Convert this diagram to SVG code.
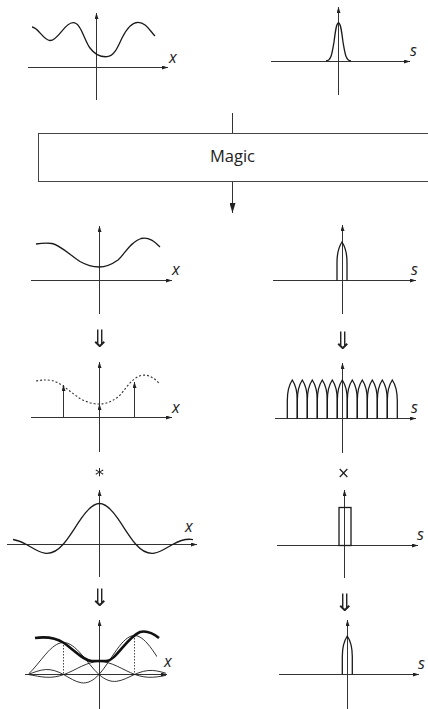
<svg xmlns="http://www.w3.org/2000/svg" xmlns:xlink="http://www.w3.org/1999/xlink" width="428" height="709" viewBox="0 0 428 709">
<style>
.ax{stroke:#333;stroke-width:1;fill:none}
.axa{stroke:#333;stroke-width:1;fill:none;marker-end:url(#ah)}
.crv{stroke:#1a1a1a;stroke-width:1.3;fill:none}
.thin{stroke:#1a1a1a;stroke-width:0.9;fill:none}
.thick{stroke:#111;stroke-width:2.6;fill:none}
.dash{stroke:#333;stroke-width:1.1;fill:none;stroke-dasharray:2 2}
.dot{stroke:#333;stroke-width:0.9;fill:none;stroke-dasharray:1.5 1.5}
.lbl{font-family:"Open Sans","Liberation Sans",sans-serif;font-style:italic;font-size:16px;fill:#222}
.op{font-family:"DejaVu Sans",sans-serif;fill:#222;text-anchor:middle}
.box{fill:#fff;stroke:#444;stroke-width:1}
.title{font-family:"Open Sans","Liberation Sans",sans-serif;font-size:16.5px;fill:#222;text-anchor:middle}
</style>
<defs>
<marker id="ah" viewBox="0 0 6 4" refX="6" refY="2" markerWidth="6" markerHeight="4" markerUnits="userSpaceOnUse" orient="auto">
<path d="M0,0 L6,2 L0,4 z" fill="#222"/>
</marker>
<marker id="big" viewBox="0 0 10 6" refX="10" refY="3" markerWidth="10" markerHeight="6" markerUnits="userSpaceOnUse" orient="auto">
<path d="M0,0 L10,3 L0,6 z" fill="#222"/>
</marker>
<filter id="flat" x="-20%" y="-20%" width="140%" height="140%"><feOffset dx="0" dy="0"/></filter>
<path id="sinc" vector-effect="non-scaling-stroke" d="M-3,0 C-2.8333,-0.0556 -2.6667,-0.1188 -2.5,-0.1273 C-2.3333,-0.1358 -2.1667,-0.0833 -2,0 C-1.8333,0.0833 -1.6667,0.1886 -1.5,0.2122 C-1.3333,0.2358 -1.1667,0.1667 -1,0 C-0.8333,-0.1667 -0.6667,-0.4244 -0.5,-0.6366 C-0.3333,-0.8488 -0.1667,-1 0,-1 C0.1667,-1 0.3333,-0.8488 0.5,-0.6366 C0.6667,-0.4244 0.8333,-0.1667 1,0 C1.1667,0.1667 1.3333,0.2358 1.5,0.2122 C1.6667,0.1886 1.8333,0.0833 2,0 C2.1667,-0.0833 2.3333,-0.1358 2.5,-0.1273 C2.6667,-0.1188 2.8333,-0.0556 3,0"/>
<path id="arch" d="M-5,0 L-5,-18 Q-5,-31 0,-38.5 Q5,-31 5,-18 L5,0"/>
<path id="wave" d="M36,244 C42,243 46,242.5 52,243.5 C60,245 70,255 80,261.5 C87,265.5 93,267 99,267 C106,267 111,265 118,260 C125,254 130,242 141,238.5 C149,236.5 155,242 160,247"/>
<clipPath id="c7"><rect x="13" y="480" width="180" height="90"/></clipPath>
<clipPath id="c9a"><rect x="29" y="600" width="137" height="100"/></clipPath>
<clipPath id="c9b"><rect x="27" y="600" width="130" height="100"/></clipPath>
</defs>

<g id="p1-signal">
<line class="ax" x1="28" y1="67.5" x2="168" y2="67.5" marker-end="url(#ah)"/>
<line class="ax" x1="96.5" y1="100" x2="96.5" y2="13" marker-end="url(#ah)"/>
<path class="crv" d="M32,27 C38,27 43,40 50,40.5 C58,41 64,23 73,22.7 C81,22.5 84,40 90,48 C95,55 102,57 107,56.7 C114,56.5 118,47 122,38 C127,28 132,22.3 138,22.3 C146,22.3 150,31 155,36"/>
<text class="lbl" x="169" y="63">x</text>
</g>

<g id="p2-spectrum">
<line class="ax" x1="271" y1="61.5" x2="410" y2="61.5" marker-end="url(#ah)"/>
<line class="ax" x1="338.5" y1="95" x2="338.5" y2="7" marker-end="url(#ah)"/>
<path class="crv" d="M326,61 C331,61 332,54 334,42 C335.5,30 336.5,23 338.5,23 C340.5,23 341.5,30 343,42 C345,54 346,61 351,61"/>
<text class="lbl" x="410" y="56">s</text>
</g>

<g id="magic">
<rect class="box" x="38.5" y="133.5" width="400" height="48"/>
<text class="title" x="232.5" y="162">Magic</text>
</g>

<g id="connectors">
<line class="ax" x1="232.5" y1="113" x2="232.5" y2="133"/>
<line class="ax" x1="232.5" y1="182" x2="232.5" y2="213" marker-end="url(#big)"/>
</g>

<g id="p3-band-limited">
<line class="ax" x1="31" y1="280.5" x2="172" y2="280.5" marker-end="url(#ah)"/>
<line class="ax" x1="99.5" y1="314" x2="99.5" y2="226" marker-end="url(#ah)"/>
<use href="#wave" class="crv"/>
<text class="lbl" x="172" y="275">x</text>
</g>

<g id="p4-band-spectrum">
<line class="ax" x1="273" y1="280.5" x2="416" y2="280.5" marker-end="url(#ah)"/>
<line class="ax" x1="342.5" y1="314" x2="342.5" y2="225" marker-end="url(#ah)"/>
<use href="#arch" class="crv" transform="translate(342,280.5)"/>
<text class="lbl" x="411" y="275">s</text>
</g>

<g id="operators" filter="url(#flat)">
<text class="op" x="99.5" y="347" font-size="24">⇓</text>
<text class="op" x="342.5" y="349" font-size="24">⇓</text>
<text class="op" x="99.5" y="481" font-size="18">*</text>
<text class="op" x="343.5" y="478" font-size="15">×</text>
<text class="op" x="99.5" y="606" font-size="24">⇓</text>
<text class="op" x="344.5" y="611" font-size="24">⇓</text>
</g>

<g id="p5-sampled">
<line class="ax" x1="31" y1="417.5" x2="172" y2="417.5" marker-end="url(#ah)"/>
<line class="ax" x1="99.5" y1="452" x2="99.5" y2="362" marker-end="url(#ah)"/>
<use href="#wave" class="dash" transform="translate(0,137)"/>
<line class="axa" x1="63.5" y1="417" x2="63.5" y2="385"/>
<line class="axa" x1="99.5" y1="417" x2="99.5" y2="404"/>
<line class="axa" x1="134.5" y1="417" x2="134.5" y2="382"/>
<text class="lbl" x="172" y="413">x</text>
</g>

<g id="p6-periodic-spectrum">
<line class="ax" x1="275" y1="418.5" x2="416" y2="418.5" marker-end="url(#ah)"/>
<line class="ax" x1="342.5" y1="453" x2="342.5" y2="363" marker-end="url(#ah)"/>
<use href="#arch" class="crv" transform="translate(292.3,418.5)"/>
<use href="#arch" class="crv" transform="translate(302.3,418.5)"/>
<use href="#arch" class="crv" transform="translate(312.3,418.5)"/>
<use href="#arch" class="crv" transform="translate(322.3,418.5)"/>
<use href="#arch" class="crv" transform="translate(332.3,418.5)"/>
<use href="#arch" class="crv" transform="translate(342.3,418.5)"/>
<use href="#arch" class="crv" transform="translate(352.3,418.5)"/>
<use href="#arch" class="crv" transform="translate(362.3,418.5)"/>
<use href="#arch" class="crv" transform="translate(372.3,418.5)"/>
<use href="#arch" class="crv" transform="translate(382.3,418.5)"/>
<use href="#arch" class="crv" transform="translate(392.3,418.5)"/>
<text class="lbl" x="411" y="413">s</text>
</g>

<g id="p7-sinc">
<line class="ax" x1="7" y1="544.5" x2="197" y2="544.5" marker-end="url(#ah)"/>
<line class="ax" x1="99.5" y1="577" x2="99.5" y2="490" marker-end="url(#ah)"/>
<g clip-path="url(#c7)"><use href="#sinc" class="crv" transform="translate(99.5,544.5) scale(36.5,41)"/></g>
<text class="lbl" x="185" y="532">x</text>
</g>

<g id="p8-box">
<line class="ax" x1="277" y1="545.5" x2="418" y2="545.5" marker-end="url(#ah)"/>
<line class="ax" x1="344.5" y1="578" x2="344.5" y2="490" marker-end="url(#ah)"/>
<rect class="crv" x="339" y="507.5" width="12" height="38" stroke-width="1.1"/>
<text class="lbl" x="417" y="540">s</text>
</g>

<g id="p9-reconstruction">
<line class="ax" x1="25" y1="674.5" x2="167" y2="674.5" marker-end="url(#ah)"/>
<line class="ax" x1="99.5" y1="709" x2="99.5" y2="620" marker-end="url(#ah)"/>
<g clip-path="url(#c9a)">
<use href="#sinc" class="thin" transform="translate(63.5,674.5) scale(35.5,32)"/>
<use href="#sinc" class="thin" transform="translate(99.5,674.5) scale(35.5,13)"/>
</g>
<g clip-path="url(#c9b)">
<use href="#sinc" class="thin" transform="translate(134.5,674.5) scale(35.5,39)"/>
</g>
<line class="dot" x1="63.5" y1="642" x2="63.5" y2="674"/>
<line class="dot" x1="134.5" y1="635" x2="134.5" y2="674"/>
<path class="thick" d="M35,638 C48,636 56,638 64,643 C74,650 84,661 92,661 L106,661 C116,661 126,638 140,632 C148,630 154,634 159,638"/>
<text class="lbl" x="164" y="667">x</text>
</g>

<g id="p10-spectrum">
<line class="ax" x1="279" y1="674.5" x2="419" y2="674.5" marker-end="url(#ah)"/>
<line class="ax" x1="347.5" y1="709" x2="347.5" y2="620" marker-end="url(#ah)"/>
<use href="#arch" class="crv" transform="translate(347.3,674.5)"/>
<text class="lbl" x="418" y="669">s</text>
</g>
</svg>
